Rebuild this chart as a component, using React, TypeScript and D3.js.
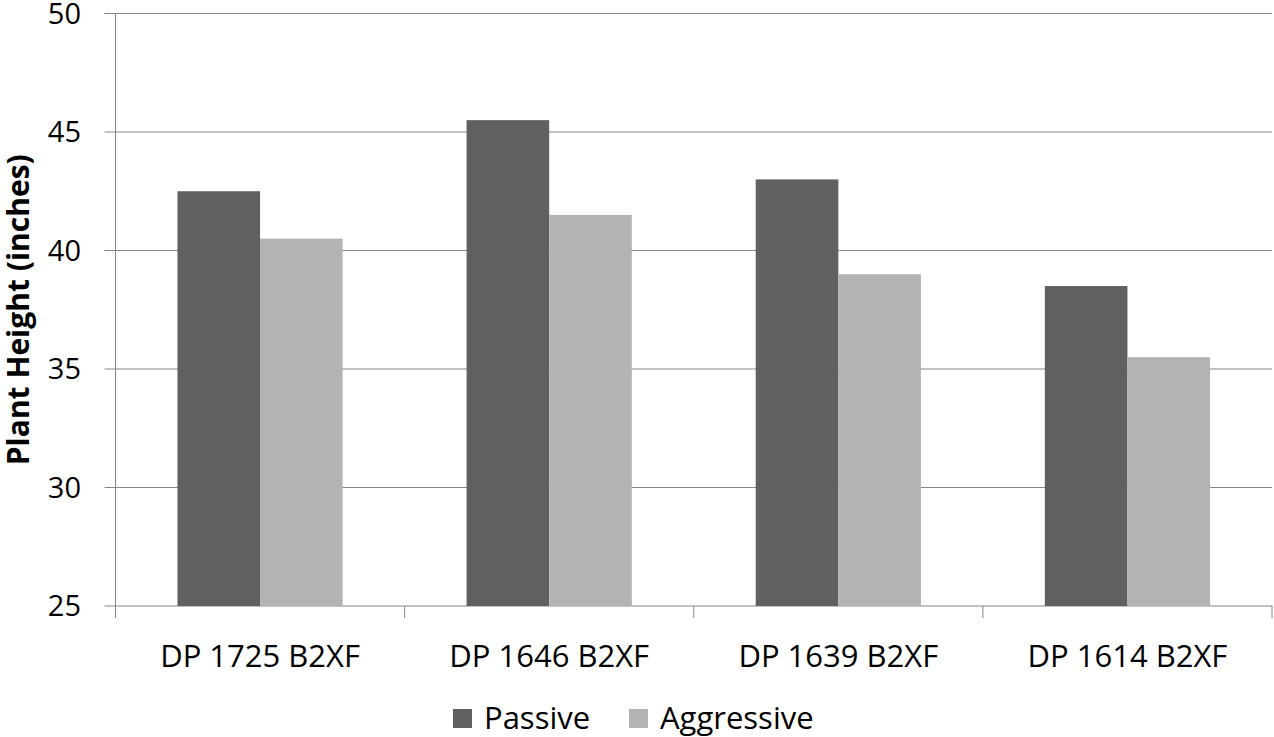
import React from "react";
import { scaleBand, scaleLinear } from "d3";

const categories = ["DP 1725 B2XF", "DP 1646 B2XF", "DP 1639 B2XF", "DP 1614 B2XF"];
const passive = [42.5, 45.5, 43, 38.5];
const aggressive = [40.5, 41.5, 39, 35.5];
const yTicks = [25, 30, 35, 40, 45, 50];
const seriesNames = ["Passive", "Aggressive"];
const seriesColors = ["#606060", "#b3b3b3"];

const width = 1274;
const height = 737;
const margin = { top: 13.5, right: 2, bottom: 131, left: 115.5 };
const font = "'Open Sans', 'Noto Sans', sans-serif";

export default function App() {
  const x = scaleBand<string>()
    .domain(categories)
    .range([margin.left, width - margin.right]);

  const y = scaleLinear()
    .domain([25, 50])
    .range([height - margin.bottom, margin.top]);

  // Excel style: gap width 150% -> bar width = band / (2 + 1.5)
  const barW = x.bandwidth() / 3.5;
  const pad = (x.bandwidth() - 2 * barW) / 2;
  const series = [passive, aggressive];
  const base = y(25);

  return (
    <div style={{ position: "absolute", left: 0, top: 0 }}>
      <svg width={width} height={height} style={{ display: "block" }}>
        {/* Grid */}
        {yTicks.map((t) => (
          <g key={t}>
            <line x1={margin.left - 11} x2={width - margin.right} y1={y(t)} y2={y(t)} stroke="#868686" strokeWidth={1} />
            <text x={81} y={y(t)} dy="0.36em" textAnchor="end" fontFamily={font} fontSize={29} fill="#000">
              {t}
            </text>
          </g>
        ))}
        {/* Left axis */}
        <line x1={margin.left} x2={margin.left} y1={margin.top} y2={base + 12} stroke="#868686" />
        {/* Category ticks */}
        {categories.map((c) => (
          <line key={c} x1={x(c)!} x2={x(c)!} y1={base} y2={base + 12} stroke="#868686" />
        ))}
        <line x1={width - margin.right} x2={width - margin.right} y1={base} y2={base + 12} stroke="#868686" />

        {/* Bars */}
        {series.map((vals, s) =>
          categories.map((c, i) => (
            <rect
              key={`${s}-${c}`}
              x={x(c)! + pad + s * barW}
              y={y(vals[i])}
              width={barW}
              height={base - y(vals[i])}
              fill={seriesColors[s]}
            />
          ))
        )}

        {/* Category labels */}
        {categories.map((c) => (
          <text key={c} x={x(c)! + x.bandwidth() / 2} y={667} textAnchor="middle" fontFamily={font} fontSize={31} fill="#000">
            {c}
          </text>
        ))}

        {/* Y title */}
        <text
          transform={`translate(29, ${(margin.top + base) / 2}) rotate(-90)`}
          textAnchor="middle"
          fontFamily={font}
          fontSize={30}
          fontWeight="bold"
          fill="#000"
        >
          Plant Height (inches)
        </text>

        {/* Legend */}
        <g transform="translate(453, 709)">
          <rect x={0} y={0} width={19} height={19} fill={seriesColors[0]} />
          <text x={31} y={20} fontFamily={font} fontSize={31} fill="#000">{seriesNames[0]}</text>
          <rect x={176} y={0} width={19} height={19} fill={seriesColors[1]} />
          <text x={207} y={20} fontFamily={font} fontSize={31} fill="#000">{seriesNames[1]}</text>
        </g>
      </svg>
    </div>
  );
}
